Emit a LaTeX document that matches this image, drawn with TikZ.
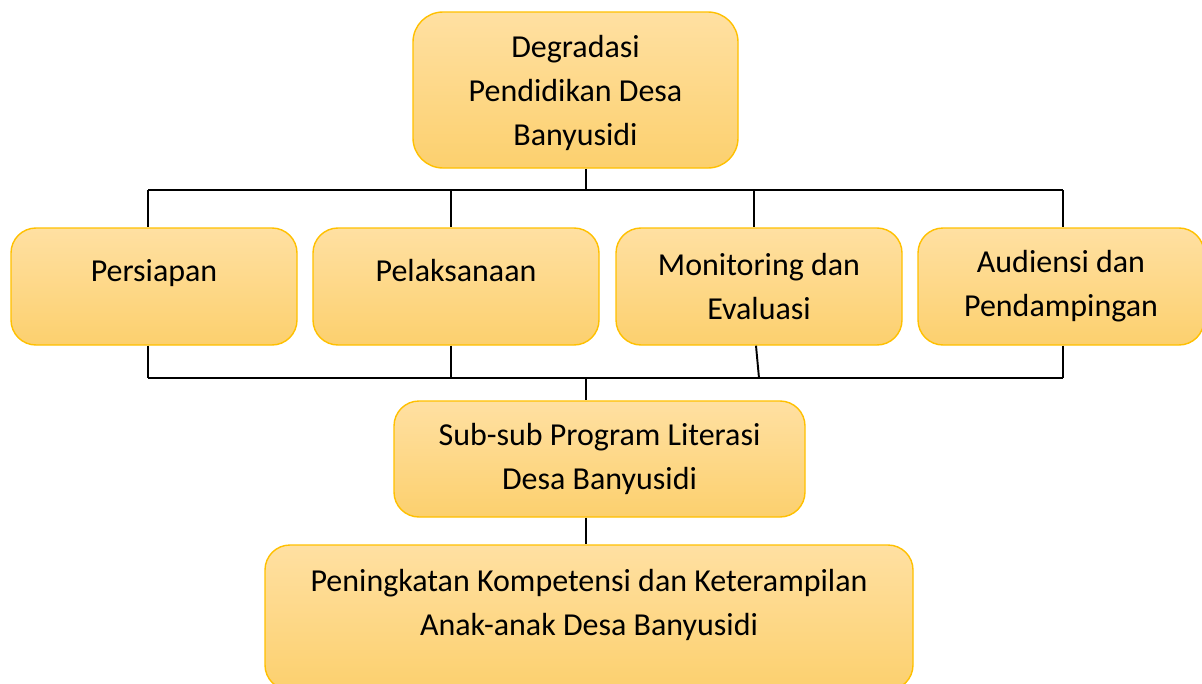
\documentclass[tikz,border=0pt]{standalone}
\usepackage{fontspec}
\setmainfont{Carlito}
\usetikzlibrary{calc}

\definecolor{boxtop}{HTML}{FFE0A2}
\definecolor{boxbottom}{HTML}{FCD06E}
\definecolor{boxline}{HTML}{FFC000}

\tikzset{
  blok/.style={rectangle,rounded corners=0.5cm,draw=boxline,line width=0.8pt,
    top color=boxtop,bottom color=boxbottom,align=center,
    font={\fontsize{18.2pt}{25pt}\selectfont},inner sep=0pt},
  garis/.style={draw=black,line width=1.1pt}
}

\begin{document}
\begin{tikzpicture}
\clip (0,0) rectangle (24.04,-13.68);
\node (degradasi)   at (11.51,-1.80)  [blok,rounded corners=0.6cm,minimum width=6.5cm,minimum height=3.12cm,text depth=0pt] {Degradasi\\Pendidikan Desa\\Banyusidi};
\node (persiapan)   at (3.08,-5.73)   [blok,minimum width=5.72cm,minimum height=2.34cm,text depth=0.66cm] {Persiapan};
\node (pelaksanaan) at (9.12,-5.73)   [blok,minimum width=5.72cm,minimum height=2.34cm,text depth=0.66cm] {Pelaksanaan};
\node (monitoring)  at (15.18,-5.73)  [blok,minimum width=5.72cm,minimum height=2.34cm] {Monitoring dan\\Evaluasi};
\node (audiensi)    at (21.22,-5.73)  [blok,minimum width=5.72cm,minimum height=2.34cm] {Audiensi dan\\Pendampingan};
\node (subsub)      at (11.99,-9.18)  [blok,minimum width=8.22cm,minimum height=2.32cm] {Sub-sub Program Literasi\\Desa Banyusidi};
\node (peningkatan) at (11.78,-12.35) [blok,minimum width=12.96cm,minimum height=2.9cm,text depth=0.6cm] {Peningkatan Kompetensi dan Keterampilan\\Anak-anak Desa Banyusidi};
\coordinate (hubatas)  at (11.72,-3.80);
\coordinate (hubbawah) at (11.72,-7.56);
\coordinate (atas1) at (2.96,-3.80);
\coordinate (atas2) at (9.02,-3.80);
\coordinate (atas3) at (15.08,-3.80);
\coordinate (atas4) at (21.26,-3.80);
\coordinate (bawah1) at (2.96,-7.56);
\coordinate (bawah2) at (9.02,-7.56);
\coordinate (bawah3) at (15.18,-7.56);
\coordinate (bawah4) at (21.26,-7.56);
\draw [garis] (degradasi.south -| hubatas) -- (hubatas);
\draw [garis] (atas1) -- (atas4);
\draw [garis] (atas1) -- (atas1 |- persiapan.north);
\draw [garis] (atas2) -- (atas2 |- pelaksanaan.north);
\draw [garis] (atas3) -- (atas3 |- monitoring.north);
\draw [garis] (atas4) -- (atas4 |- audiensi.north);
\draw [garis] (bawah1 |- persiapan.south) -- (bawah1);
\draw [garis] (bawah2 |- pelaksanaan.south) -- (bawah2);
\draw [garis] ($(bawah3 |- monitoring.south)+(-0.06,0)$) -- (bawah3);
\draw [garis] (bawah4 |- audiensi.south) -- (bawah4);
\draw [garis] (bawah1) -- (bawah4);
\draw [garis] (hubbawah) -- (hubbawah |- subsub.north);
\draw [garis] (hubbawah |- subsub.south) -- (hubbawah |- peningkatan.north);
\end{tikzpicture}
\end{document}
